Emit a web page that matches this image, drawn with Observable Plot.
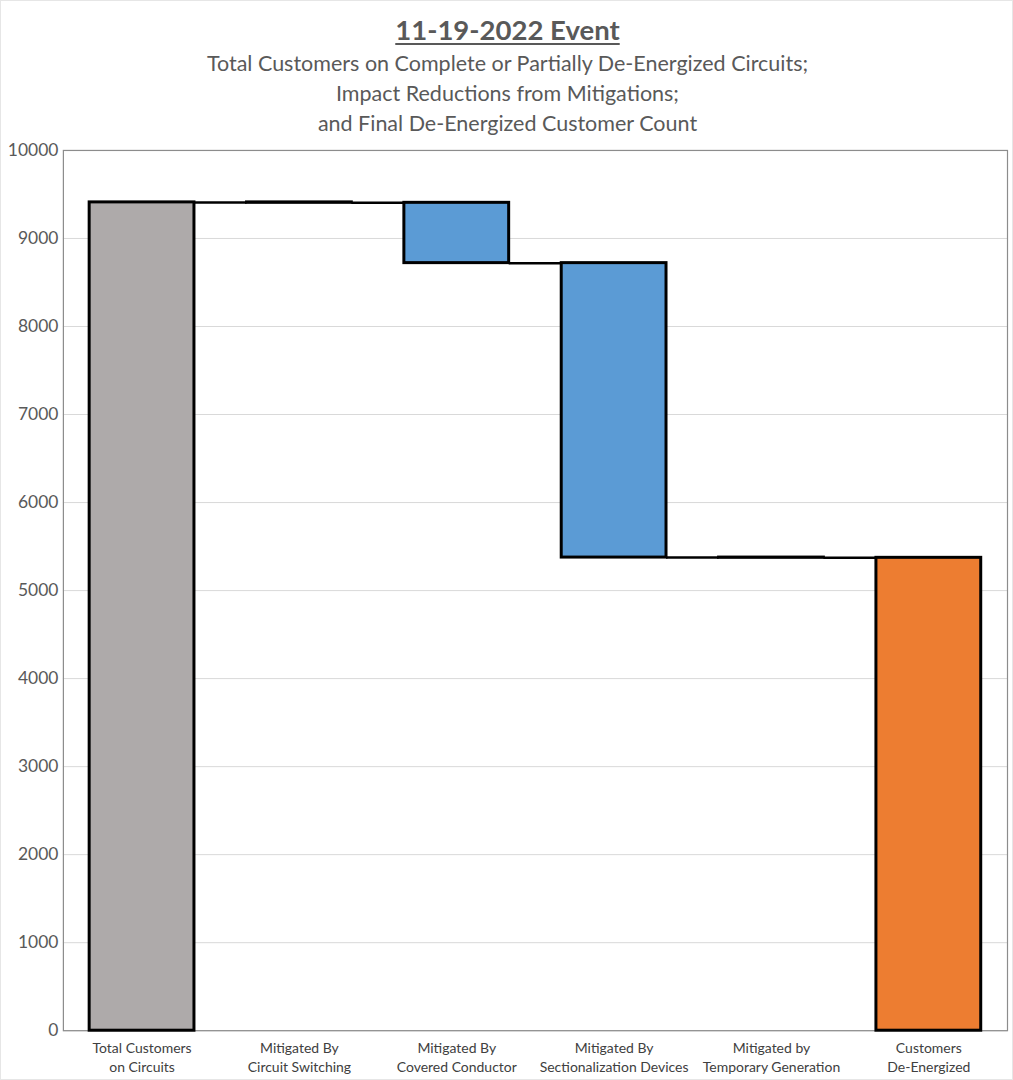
<!DOCTYPE html>
<html>
<head>
<meta charset="utf-8">
<script src="https://cdn.jsdelivr.net/npm/d3@7"></script>
<script src="https://cdn.jsdelivr.net/npm/@observablehq/plot@0.6"></script>
<style>
  html, body { margin: 0; padding: 0; background: #fff; }
  #wrap { width: 1013px; height: 1080px; position: relative; box-sizing: border-box; border: 1px solid #e6e6e6; font-family: Lato, "Open Sans", sans-serif; color: #595959; }
  #title { position: absolute; top: 12px; left: 0; width: 1013px; text-align: center; font-size: 27.5px; font-weight: bold; text-decoration: underline; text-underline-offset: 3px; line-height: 34px; }
  #sub { position: absolute; top: 47px; left: 0; width: 1013px; text-align: center; font-size: 21.5px; line-height: 30px; }
  #chart { position: absolute; top: 128px; left: 0; }
  #chart svg { overflow: visible; }
</style>
</head>
<body>
<div id="wrap">
  <div id="title">11-19-2022 Event</div>
  <div id="sub">Total Customers on Complete or Partially De-Energized Circuits;<br>Impact Reductions from Mitigations;<br>and Final De-Energized Customer Count</div>
  <div id="chart"></div>
</div>
<script>
const categories = [
  "Total Customers\non Circuits",
  "Mitigated By\nCircuit Switching",
  "Mitigated By\nCovered Conductor",
  "Mitigated By\nSectionalization Devices",
  "Mitigated by\nTemporary Generation",
  "Customers\nDe-Energized"
];
const values = [9410, -5, -685, -3345, -3, 5372];
const kinds = ["total", "delta", "delta", "delta", "delta", "total"];
const colors = { first: "#AEAAAA", delta: "#5B9BD5", last: "#ED7D31" };
const yTicks = [0, 1000, 2000, 3000, 4000, 5000, 6000, 7000, 8000, 9000, 10000];

// build waterfall table
let running = 0;
const bars = categories.map((c, i) => {
  let lo, hi;
  if (kinds[i] === "total") { lo = 0; hi = values[i]; running = values[i]; }
  else { const next = running + values[i]; lo = Math.min(running, next); hi = Math.max(running, next); running = next; }
  const color = i === 0 ? colors.first : (kinds[i] === "total" ? colors.last : colors.delta);
  return { i, label: c, y1: lo, y2: hi, level: running, color };
});
const half = 0.333;
const connectors = bars.slice(0, -1).map(b => ({ x1: b.i + half, x2: b.i + 1 - half, y: b.level }));

const chart = Plot.plot({
  width: 1013,
  height: 951,
  marginLeft: 62,
  marginRight: 5,
  marginTop: 21,
  marginBottom: 48,
  style: { fontFamily: "Lato, 'Open Sans', sans-serif", background: "transparent", overflow: "visible" },
  x: { domain: [-0.5, 5.5], axis: null },
  y: { domain: [0, 10000], axis: null },
  marks: [
    Plot.gridY(yTicks, { stroke: "#d9d9d9", strokeOpacity: 1 }),
    Plot.frame({ stroke: "#8c8c8c", strokeWidth: 1.2 }),
    Plot.axisY(yTicks, { tickSize: 0, tickPadding: 5, fontSize: 17.5, fill: "#595959", tickFormat: d => String(d) }),
    Plot.axisX([0, 1, 2, 3, 4, 5], { tickSize: 0, tickPadding: 9, fontSize: 14, fill: "#404040", lineHeight: 1.35, tickFormat: i => categories[i] }),
    Plot.ruleY(connectors, { y: "y", x1: "x1", x2: "x2", stroke: "#000", strokeWidth: 2.5 }),
    Plot.rectY(bars, { x1: d => d.i - half, x2: d => d.i + half, y1: "y1", y2: "y2", fill: "color", stroke: "#000", strokeWidth: 3 })
  ]
});
document.getElementById("chart").appendChild(chart);
</script>
</body>
</html>
